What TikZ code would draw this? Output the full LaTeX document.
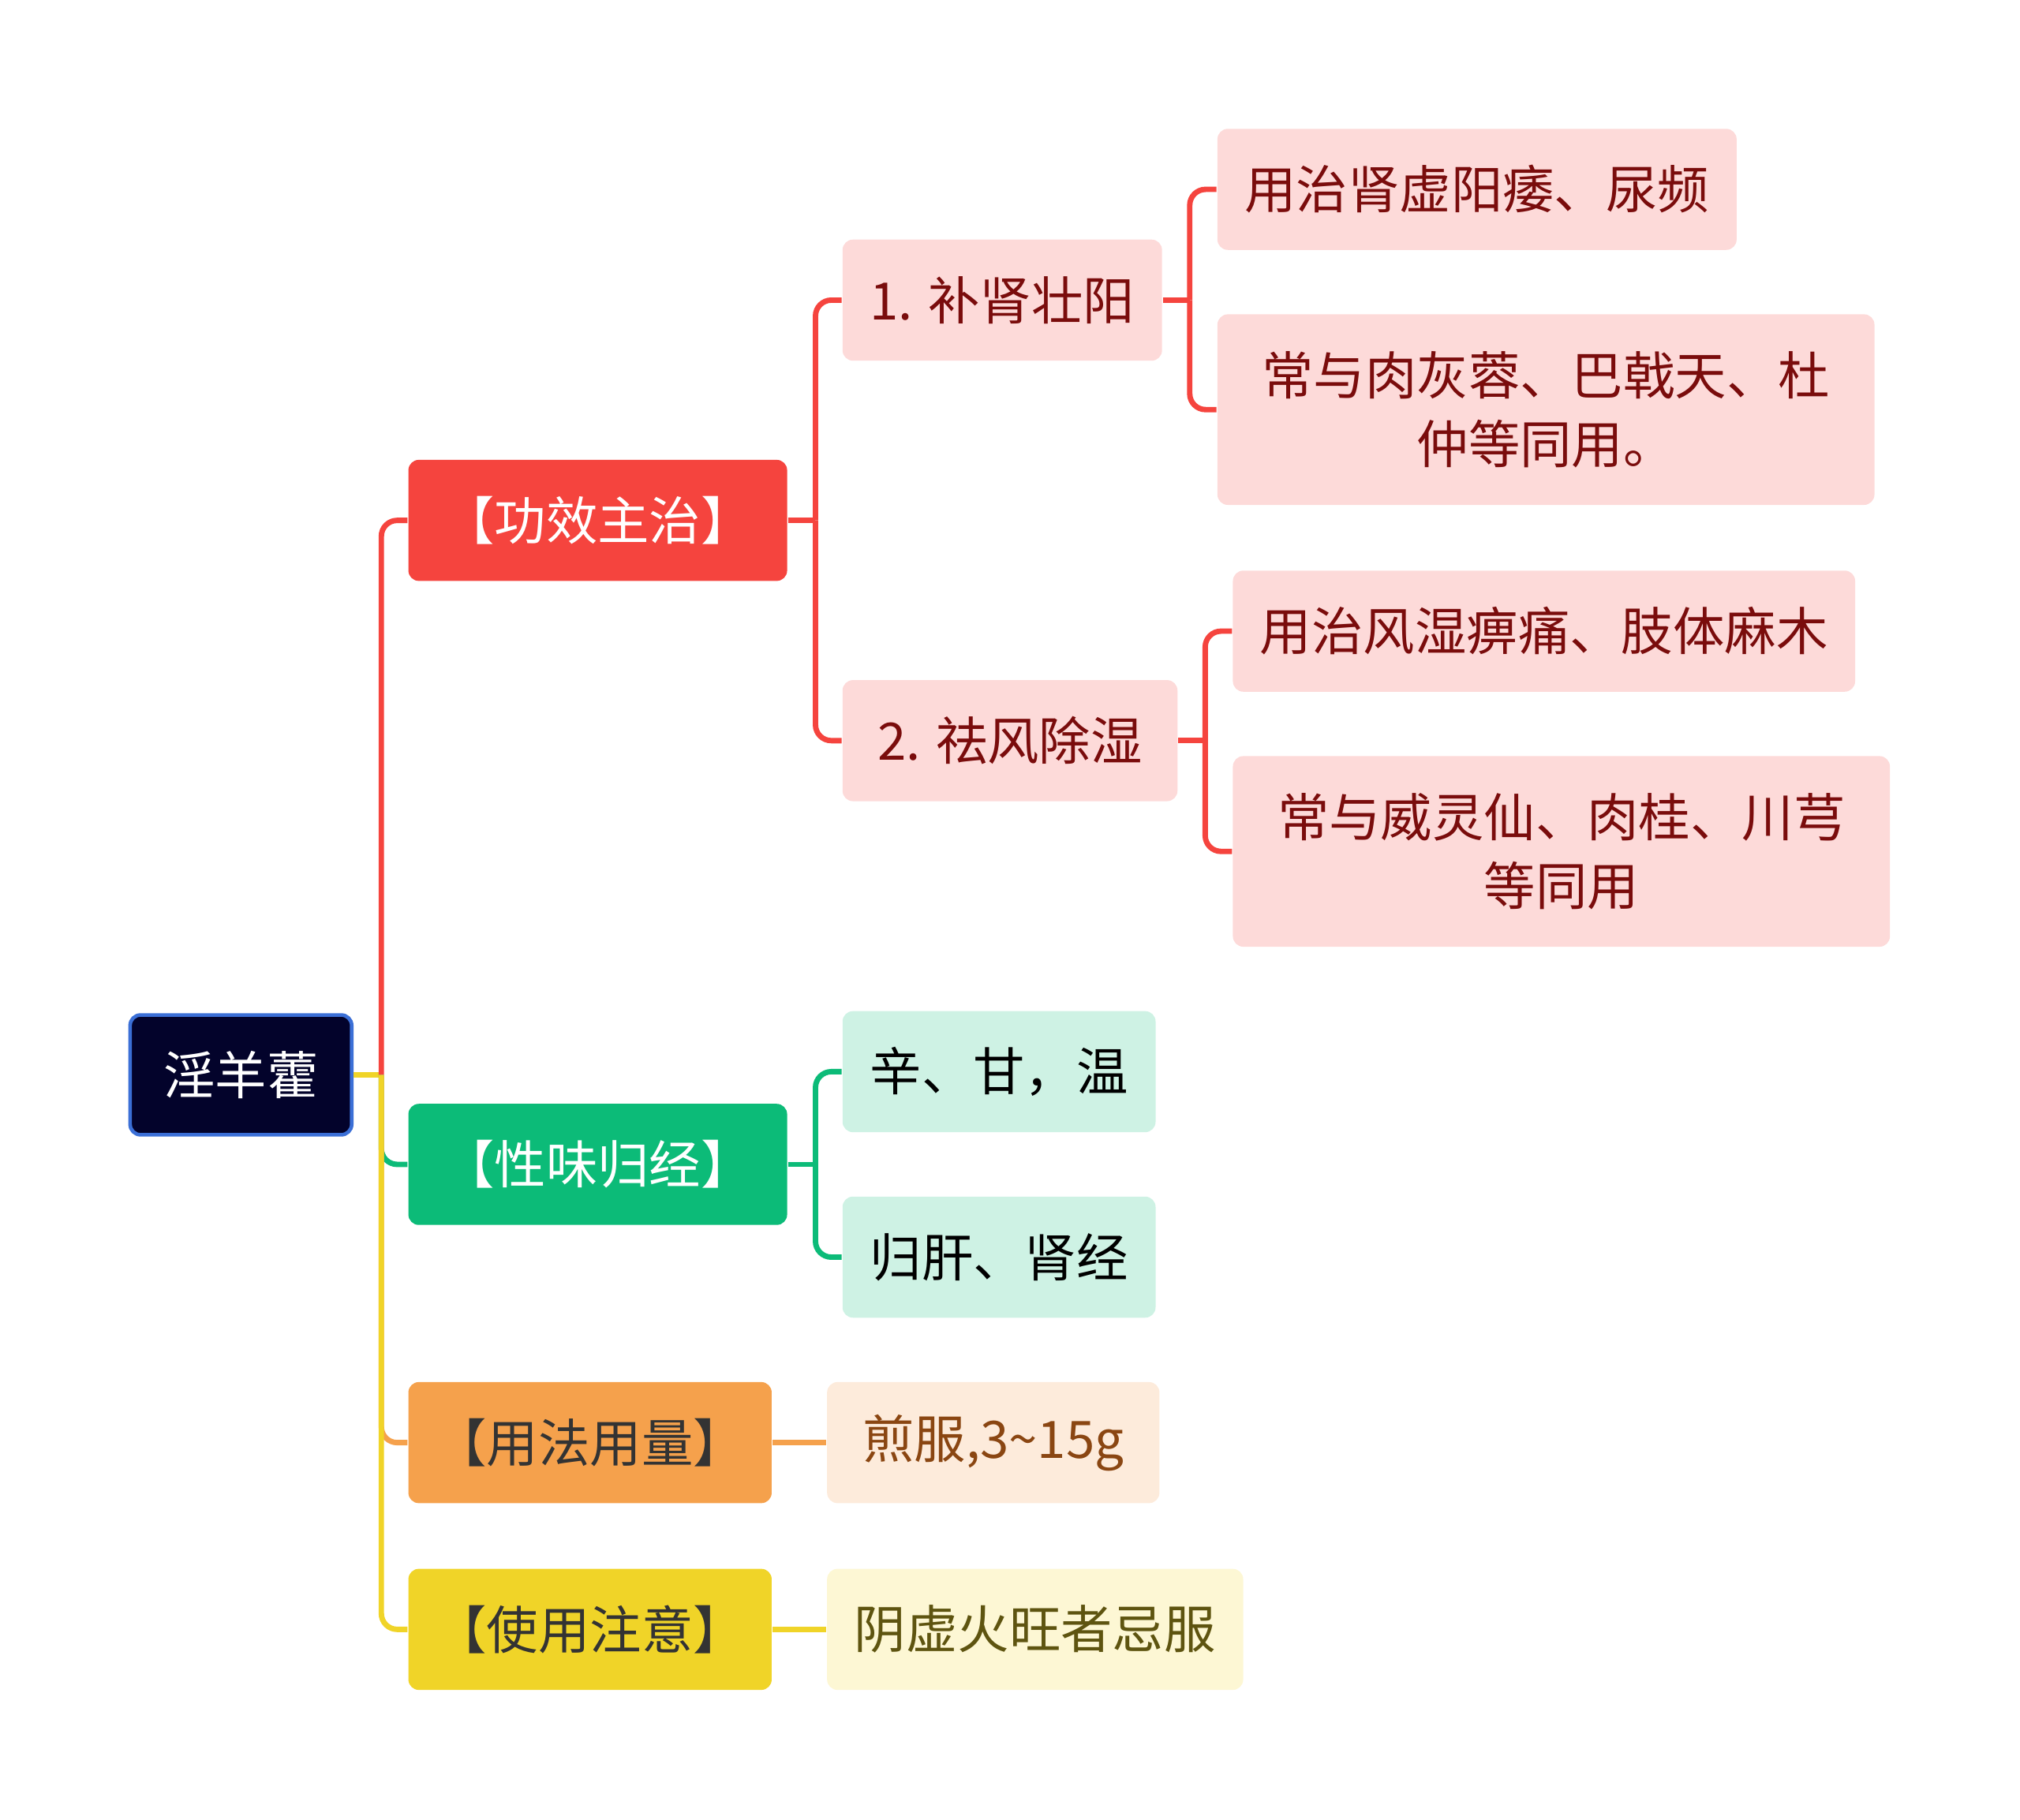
\documentclass[tikz,border=0pt]{standalone}
\usepackage{fontspec}
\setmainfont{Noto Sans CJK SC}

\definecolor{rootblue}{HTML}{03032B}
\definecolor{rootedge}{HTML}{3B6FD6}
\definecolor{gxred}{HTML}{F5443E}
\definecolor{gxpink}{HTML}{FDDAD9}
\definecolor{gxtext}{HTML}{7A0C0C}
\definecolor{xwgreen}{HTML}{0CBB78}
\definecolor{xwlight}{HTML}{CEF2E4}
\definecolor{yforange}{HTML}{F5A14C}
\definecolor{yflight}{HTML}{FDEBDB}
\definecolor{yftext}{HTML}{8A4612}
\definecolor{syyellow}{HTML}{F0D428}
\definecolor{sylight}{HTML}{FDF7D4}
\definecolor{sytext}{HTML}{5E5410}

\begin{document}
\begin{tikzpicture}[
  box/.style={rounded corners=2.3pt, inner sep=0pt, minimum height=0.94cm, align=center,
    font=\fontsize{11.4}{15.2}\selectfont},
  link/.style={line width=1.2pt, rounded corners=3.5pt},
]
  \useasboundingbox (0,0) rectangle (15.68,-14.13);

  % root
  \node[box, fill=rootblue, draw=rootedge, line width=0.8pt, text=white, minimum width=1.72cm, minimum height=0.93cm] (yyh) at (1.87,-8.345) {淫羊藿};

  % first level
  \node[box, fill=gxred, text=white, minimum width=2.94cm] (gxzz) at (4.64,-4.04) {【功效主治】};
  \node[box, fill=xwgreen, text=white, minimum width=2.94cm] (xwgj) at (4.64,-9.04) {【性味归经】};
  \node[box, fill=yforange, text=black!80, minimum width=2.82cm] (yfyl) at (4.58,-11.20) {【用法用量】};
  \node[box, fill=syyellow, text=black!80, minimum width=2.82cm] (syzy) at (4.58,-12.65) {【使用注意】};

  % 功效主治
  \node[box, fill=gxpink, text=gxtext, minimum width=2.48cm] (bszy) at (7.78,-2.33) {1. 补肾壮阳};
  \node[box, fill=gxpink, text=gxtext, minimum width=4.03cm] (bszy1) at (11.465,-1.47) {用治肾虚阳痿、尿频};
  \node[box, fill=gxpink, text=gxtext, minimum width=5.10cm, minimum height=1.48cm] (bszy2) at (12.00,-3.18) {常与肉灰蓉、巴戟天、杜\\仲等同用。};
  \node[box, fill=gxpink, text=gxtext, minimum width=2.60cm] (qfcs) at (7.84,-5.75) {2. 祛风除湿};
  \node[box, fill=gxpink, text=gxtext, minimum width=4.83cm] (qfcs1) at (11.985,-4.90) {用治风湿痹痛、肢体麻木};
  \node[box, fill=gxpink, text=gxtext, minimum width=5.10cm, minimum height=1.48cm] (qfcs2) at (12.12,-6.61) {常与威灵仙、肉桂、川芎\\等同用};

  % 性味归经
  \node[box, fill=xwlight, text=black, minimum width=2.43cm] (xw1) at (7.755,-8.32) {辛、甘，温};
  \node[box, fill=xwlight, text=black, minimum width=2.43cm] (xw2) at (7.755,-9.76) {归肝、肾经};

  % 用法用量, 使用注意
  \node[box, fill=yflight, text=yftext, minimum width=2.58cm] (yf1) at (7.71,-11.20) {煎服,3\textasciitilde15g};
  \node[box, fill=sylight, text=sytext, minimum width=3.23cm] (sy1) at (8.035,-12.65) {阴虚火旺者忌服};

  % joints
  \coordinate (rj) at (2.96,-8.345);
  \coordinate (gj) at (6.33,-4.04);
  \coordinate (b1j) at (9.235,-2.33);
  \coordinate (b2j) at (9.355,-5.75);
  \coordinate (xj) at (6.33,-9.04);

  % root links
  \draw[link, syyellow] (yyh.east) -- (rj);
  \draw[link, gxred] (rj) |- (gxzz.west);
  \draw[link, xwgreen] (rj) |- (xwgj.west);
  \draw[link, yforange] (rj) |- (yfyl.west);
  \draw[link, syyellow] (rj) |- (syzy.west);

  % 功效主治 links
  \draw[link, gxred] (gxzz.east) -- (gj);
  \draw[link, gxred] (gj) |- (bszy.west);
  \draw[link, gxred] (gj) |- (qfcs.west);
  \draw[link, gxred] (bszy.east) -- (b1j);
  \draw[link, gxred] (b1j) |- (bszy1.west);
  \draw[link, gxred] (b1j) |- (bszy2.west);
  \draw[link, gxred] (qfcs.east) -- (b2j);
  \draw[link, gxred] (b2j) |- (qfcs1.west);
  \draw[link, gxred] (b2j) |- (qfcs2.west);

  % other links
  \draw[link, xwgreen] (xwgj.east) -- (xj);
  \draw[link, xwgreen] (xj) |- (xw1.west);
  \draw[link, xwgreen] (xj) |- (xw2.west);
  \draw[link, yforange] (yfyl.east) -- (yf1.west);
  \draw[link, syyellow] (syzy.east) -- (sy1.west);
\end{tikzpicture}
\end{document}
